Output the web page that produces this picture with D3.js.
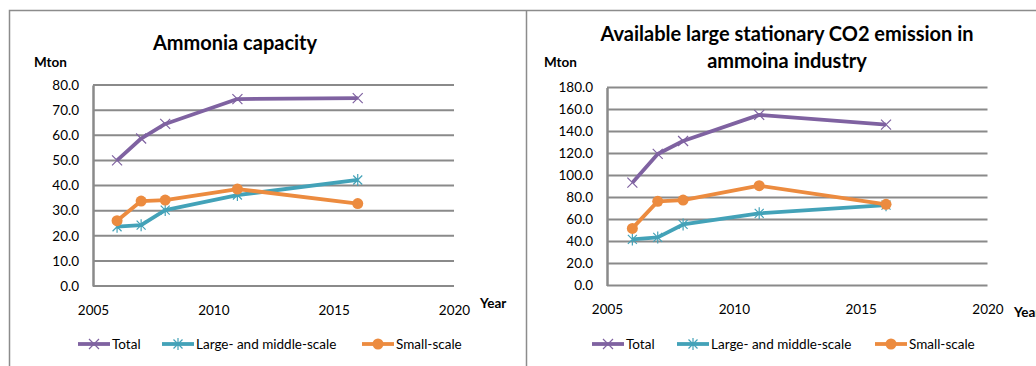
<!DOCTYPE html>
<html>
<head>
<meta charset="utf-8">
<script src="https://cdn.jsdelivr.net/npm/d3@7"></script>
<style>
  body { margin: 0; background: #fff; }
  svg { display: block; font-family: Lato, "Open Sans", sans-serif; }
</style>
</head>
<body>
<script>
// data
const years = [2006, 2007, 2008, 2011, 2016];
const seriesNames = ["Total", "Large- and middle-scale", "Small-scale"];

const capTotal = [50.0, 58.7, 64.5, 74.4, 74.8];
const capLarge = [23.6, 24.2, 30.2, 36.2, 42.2];
const capSmall = [26.0, 33.8, 34.2, 38.6, 32.8];

const co2Total = [93.5, 119.6, 131.4, 155.1, 146.3];
const co2Large = [41.9, 43.7, 55.5, 65.6, 73.0];
const co2Small = [51.9, 76.5, 77.7, 90.7, 73.8];

const xTicks = [2005, 2010, 2015, 2020];
const capTicks = d3.range(0, 81, 10);
const co2Ticks = d3.range(0, 181, 20);

const colors = ["#7f62a1", "#43a2b8", "#ec8b3f"];
const gridColor = "#8a8a8a";

const width = 1036, height = 366;

const svg = d3.select("body").append("svg")
    .attr("width", width)
    .attr("height", height);

// outer frames
svg.append("path")
    .attr("d", "M9.5,366V10.5H1036M526.5,10.5V366")
    .attr("fill", "none")
    .attr("stroke", "#8c8c8c")
    .attr("stroke-width", 1.5);

function drawPanel(opt) {
    const x = d3.scaleLinear().domain([2005, 2020]).range([opt.left, opt.right]);
    const y = d3.scaleLinear().domain([0, opt.yMax]).range([opt.bottom, opt.top]);

    const g = svg.append("g");

    // gridlines
    g.append("g")
        .selectAll("line")
        .data(opt.yTicks)
        .join("line")
        .attr("x1", opt.left)
        .attr("x2", opt.right)
        .attr("y1", d => y(d))
        .attr("y2", d => y(d))
        .attr("stroke", gridColor)
        .attr("stroke-width", 2);

    // y axis
    const yAxis = g.append("g")
        .attr("transform", `translate(${opt.left},0)`)
        .call(d3.axisLeft(y).tickValues(opt.yTicks).tickFormat(d3.format(".1f")).tickSize(0).tickPadding(opt.left - opt.yLabelX));
    yAxis.select(".domain").attr("stroke", gridColor).attr("stroke-width", 2.5);
    yAxis.selectAll("text").attr("font-size", 13.5).attr("fill", "#000").attr("font-family", "Lato");

    // x axis
    const xAxis = g.append("g")
        .attr("transform", `translate(0,${opt.bottom})`)
        .call(d3.axisBottom(x).tickValues(xTicks).tickFormat(d3.format("d")).tickSize(0).tickPadding(19));
    xAxis.select(".domain").remove();
    xAxis.selectAll("text").attr("font-size", 13.5).attr("fill", "#000").attr("font-family", "Lato");

    // titles
    const title = g.append("text")
        .attr("x", opt.titleX)
        .attr("text-anchor", "middle")
        .attr("font-weight", "bold")
        .attr("font-size", 20);
    opt.title.forEach((t, i) => {
        title.append("tspan").attr("x", opt.titleX).attr("y", opt.titleY + i * 26.5).text(t);
    });

    g.append("text")
        .attr("x", opt.mtonX).attr("y", opt.mtonY)
        .attr("font-weight", "bold").attr("font-size", 13.5)
        .text("Mton");
    g.append("text")
        .attr("x", opt.yearX).attr("y", opt.yearY)
        .attr("font-weight", "bold").attr("font-size", 13.5)
        .text("Year");

    const line = d3.line().x((d, i) => x(years[i])).y(d => y(d));

    opt.series.forEach((vals, s) => {
        g.append("path")
            .datum(vals)
            .attr("d", line)
            .attr("fill", "none")
            .attr("stroke", colors[s])
            .attr("stroke-width", 3.8)
            .attr("stroke-linejoin", "round");
        drawMarkers(g, vals.map((v, i) => [x(years[i]), y(v)]), s);
    });

    // legend
    opt.legend.forEach((lx, s) => {
        const lg = g.append("g").attr("transform", `translate(${lx},344)`);
        lg.append("line").attr("x1", 0).attr("x2", 32)
            .attr("stroke", colors[s]).attr("stroke-width", 3.8);
        drawMarkers(lg, [[16, 0]], s);
        lg.append("text").attr("x", 34).attr("y", 5)
            .attr("font-size", 13.5).text(seriesNames[s]);
    });
}

function drawMarkers(g, pts, s) {
    if (s === 2) {
        g.selectAll(null).data(pts).join("circle")
            .attr("cx", d => d[0]).attr("cy", d => d[1]).attr("r", 5.5)
            .attr("fill", colors[s]);
        return;
    }
    let p = "M-5,-5L5,5M-5,5L5,-5";
    if (s === 1) p = "M-4.5,-4.5L4.5,4.5M-4.5,4.5L4.5,-4.5M0,-6L0,6";
    g.selectAll(null).data(pts).join("path")
        .attr("transform", d => `translate(${d[0]},${d[1]})`)
        .attr("d", p)
        .attr("fill", "none")
        .attr("stroke", colors[s])
        .attr("stroke-width", 1.2);
}

drawPanel({
    left: 93, right: 454, top: 85, bottom: 286, yMax: 80, yTicks: capTicks,
    yLabelX: 79,
    title: ["Ammonia capacity"], titleX: 235, titleY: 50,
    mtonX: 34, mtonY: 67, yearX: 480, yearY: 308,
    series: [capTotal, capLarge, capSmall],
    legend: [78, 162, 362]
});

drawPanel({
    left: 607, right: 987.5, top: 87.5, bottom: 285.5, yMax: 180, yTicks: co2Ticks,
    yLabelX: 593,
    title: ["Available large stationary CO2 emission in", "ammoina industry"], titleX: 787, titleY: 41,
    mtonX: 544, mtonY: 67, yearX: 1014, yearY: 317,
    series: [co2Total, co2Large, co2Small],
    legend: [592, 677, 875]
});
</script>
</body>
</html>
